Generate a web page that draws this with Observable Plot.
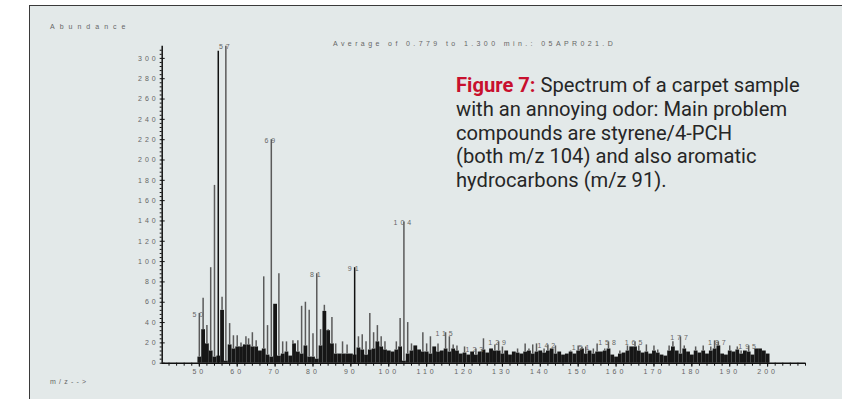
<!DOCTYPE html>
<html>
<head>
<meta charset="utf-8">
<script src="https://cdn.jsdelivr.net/npm/d3@7"></script>
<script src="https://cdn.jsdelivr.net/npm/@observablehq/plot@0.6"></script>
<style>
  body { margin: 0; background: #fff; }
  #wrap { position: relative; width: 842px; height: 399px; overflow: hidden; background: #fff; }
  #panel { position: absolute; left: 29px; top: 5px; width: 830px; height: 420px;
           border-left: 1.6px solid #3a3a3a; border-top: 1.6px solid #3a3a3a; background: #e3e9e9; }
  #chart { position: absolute; left: 0; top: 0; }
  .small { position: absolute; font-family: "Liberation Sans", Arial, sans-serif; font-size: 7px;
           color: #666; white-space: pre; line-height: 8px; }
  #caption { position: absolute; left: 456px; top: 74px; font-family: Roboto, "Liberation Sans", sans-serif;
             font-size: 21px; line-height: 23.8px; color: #262626; white-space: nowrap;
             transform-origin: 0 0; transform: scaleX(0.96); }
  #caption .fig { color: #c8102e; font-weight: 700; }
</style>
</head>
<body>
<div id="wrap">
  <div id="panel"></div>
  <div id="chart"></div>
  <div class="small" style="left:50px;top:23px;letter-spacing:5px">Abundance</div>
  <div class="small" style="left:333px;top:40px;letter-spacing:3.4px">Average of 0.779 to 1.300 min.: 05APR021.D</div>
  <div class="small" style="left:50px;top:378px;letter-spacing:3.2px">m/z--&gt;</div>
  <div id="caption"><span class="fig">Figure 7:</span> Spectrum of a carpet sample<br>with an annoying odor: Main problem<br>compounds are styrene/4-PCH<br>(both m/z 104) and also aromatic<br>hydrocarbons (m/z 91).</div>
</div>
<script>
// Averaged mass spectrum, m/z 50-200 (abundance in arbitrary units)
const massRange = d3.range(50, 201);

// dense background ion signal, one value per integer m/z from 50 to 200
const baseAbundance = [
  6, 33, 19, 12, 6, 7, 52, 2, 18, 14,
  16, 16, 18, 18, 16, 16, 12, 14, 8, 6,
  58, 7, 9, 11, 7, 19, 11, 9, 17, 6,
  6, 4, 17, 51, 32, 19, 9, 9, 9, 9,
  9, 8, 15, 13, 8, 13, 14, 21, 16, 13,
  12, 11, 13, 16, 2, 9, 12, 17, 13, 11,
  11, 9, 16, 11, 12, 14, 11, 14, 12, 9,
  10, 8, 11, 8, 11, 13, 10, 14, 12, 12,
  9, 12, 8, 11, 10, 9, 11, 12, 9, 11,
  12, 10, 12, 14, 9, 11, 8, 9, 11, 9,
  12, 14, 9, 12, 9, 11, 11, 12, 14, 8,
  6, 9, 10, 12, 16, 16, 12, 10, 11, 9,
  12, 10, 8, 7, 12, 16, 12, 9, 14, 11,
  8, 12, 10, 12, 9, 12, 14, 17, 9, 8,
  12, 11, 13, 9, 12, 11, 8, 14, 14, 12,
  9
];

// individual fragment ion lines
const ionMz = [
  50, 51, 52, 53, 54, 56, 57, 58, 59, 60,
  61, 62.3, 63, 64, 65, 67, 68, 69, 71, 72,
  73, 74.7, 76, 77, 78, 79, 80, 81, 82, 83,
  84, 85, 86, 87.8, 89, 92, 93, 94, 95, 96,
  97, 98, 99, 102, 103, 104, 105, 106, 109, 110,
  111, 113, 115, 116, 117, 118, 120, 123, 125, 128,
  129, 130, 134, 136, 137, 138, 139, 141, 142, 144,
  148, 150, 151, 152, 154, 155, 157, 158, 161, 163,
  165, 166, 168, 170, 171, 174, 175, 177, 178, 181,
  183, 185, 186, 187, 190, 192, 193, 195, 199
];
const ionAbundance = [
  49, 64, 37, 94, 175, 65, 312, 39, 27, 27,
  20, 26, 24, 30, 22, 85, 37, 220, 88, 21,
  21, 22, 22, 56, 60, 52, 29, 88, 33, 57,
  33, 45, 19, 21, 18, 26, 28, 21, 49, 30,
  37, 26, 21, 21, 44, 139, 40, 19, 30, 19,
  26, 19, 30, 26, 18, 17, 16, 14, 24, 18,
  21, 16, 14, 19, 14, 18, 19, 14, 18, 17,
  12, 17, 16, 16, 14, 19, 14, 21, 12, 17,
  21, 17, 18, 17, 13, 17, 21, 26, 17, 16,
  17, 16, 22, 21, 17, 16, 12, 17, 12
];

// the two darker lines
const strongMz = [55, 91];
const strongAbundance = [307, 94];

// ions annotated with their m/z
const labelMz = [50, 57, 69, 81, 91, 104, 115, 123, 129, 142, 151, 158, 165, 177, 187, 195];

const yTicks = d3.range(0, 301, 20);
const yMinorTicks = d3.range(0, 312, 4);
const xTicks = d3.range(50, 201, 10);
const xMinorTicks = d3.range(42, 211, 2);

const xDomain = [40.2, 210];
const yDomain = [0, 312];

const base = massRange.map((mz, i) => ({mz, value: baseAbundance[i]}));
const baseAt = new Map(base.map(d => [d.mz, d.value]));
// each line rises from the background level at its nominal mass
const ions = ionMz.map((mz, i) => ({mz, value: ionAbundance[i], floor: Math.min(baseAt.get(Math.round(mz)) ?? 0, ionAbundance[i])}));
const strong = strongMz.map((mz, i) => ({mz, value: strongAbundance[i]}));
const heightOf = new Map([...ions, ...strong].map(d => [d.mz, d.value]));
const labels = labelMz.map(mz => ({mz, value: heightOf.get(mz)}));

const chart = Plot.plot({
  width: 842,
  height: 399,
  marginLeft: 161.7,
  marginRight: 37,
  marginTop: 45.7,
  marginBottom: 36.3,
  style: "background: transparent; font-family: 'Liberation Sans', Arial, sans-serif; font-size: 7px; letter-spacing: 3px; color: #555; overflow: visible;",
  x: {domain: xDomain, axis: null},
  y: {domain: yDomain, axis: null},
  marks: [
    Plot.ruleX(base, {x: "mz", y1: 0, y2: "value", stroke: "#161616", strokeWidth: 3.8}),
    Plot.ruleX(ions, {x: "mz", y1: "floor", y2: "value", stroke: "#5a5a5a", strokeWidth: 1.5}),
    Plot.ruleX(strong, {x: "mz", y1: 0, y2: "value", stroke: "#111", strokeWidth: 1.5}),
    Plot.text(labels, {x: "mz", y: "value", text: d => String(d.mz), fill: "#666", dy: 1}),
    // axis lines
    Plot.ruleX([xDomain[0]], {y1: yDomain[0], y2: yDomain[1], stroke: "#111", strokeWidth: 1.5}),
    Plot.ruleY([0], {x1: xDomain[0], x2: xDomain[1], stroke: "#111", strokeWidth: 1.5}),
    Plot.axisY({ticks: yTicks, tickSize: 3.5, tickPadding: 3, dx: 3, label: null, stroke: "#111", fill: "#666"}),
    Plot.axisY({ticks: yMinorTicks, tickSize: 2, tickFormat: () => "", label: null, stroke: "#111"}),
    Plot.axisX({ticks: xTicks, tickSize: 4, tickPadding: 2, label: null, stroke: "#111", fill: "#666"}),
    Plot.axisX({ticks: xMinorTicks, tickSize: 3, tickFormat: () => "", label: null, stroke: "#111"})
  ]
});
document.getElementById("chart").appendChild(chart);
</script>
</body>
</html>
